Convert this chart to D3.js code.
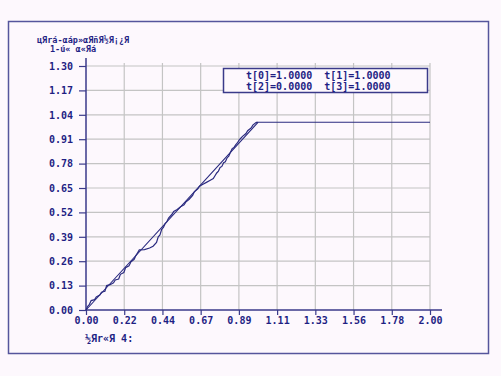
<!DOCTYPE html>
<html>
<head>
<meta charset="utf-8">
<script src="https://cdn.jsdelivr.net/npm/d3@7"></script>
<style>
  body { margin: 0; background: #fdf8fd; }
  text { font-family: "DejaVu Sans Mono", monospace; font-weight: bold; fill: #1f1f84; }
</style>
</head>
<body>
<div id="chart"></div>
<script>
// tick values / labels
const xTicks = d3.range(10).map(i => i * 2 / 9);
const yTicks = d3.range(11).map(i => i * 0.13);

// theoretical distribution function
const theoX = [0, 1, 2];
const theoY = [0, 1, 1];

const empX = [0.00, 0.01, 0.02, 0.03, 0.05, 0.06, 0.08, 0.09, 0.11, 0.12, 0.14, 0.16, 0.17, 0.19,
  0.20, 0.22, 0.23, 0.25, 0.26, 0.28, 0.29, 0.30, 0.31, 0.34, 0.37, 0.39, 0.41, 0.42, 0.43,
  0.44, 0.45, 0.46, 0.47, 0.48, 0.50, 0.51, 0.53, 0.55, 0.57, 0.58, 0.60, 0.62, 0.63, 0.65,
  0.66, 0.68, 0.70, 0.72, 0.74, 0.75, 0.76, 0.77, 0.78, 0.79, 0.80, 0.81, 0.82, 0.83, 0.84,
  0.85, 0.86, 0.87, 0.88, 0.89, 0.90, 0.91, 0.93, 0.94, 0.96, 0.97, 0.99, 1.00];
const empY = [0.00, 0.02, 0.03, 0.05, 0.055, 0.07, 0.08, 0.095, 0.10, 0.13, 0.135, 0.145, 0.16, 0.165,
  0.19, 0.20, 0.225, 0.235, 0.255, 0.27, 0.29, 0.305, 0.32, 0.322, 0.33, 0.34, 0.36, 0.39, 0.40,
  0.43, 0.44, 0.46, 0.47, 0.49, 0.51, 0.525, 0.535, 0.55, 0.56, 0.575, 0.59, 0.61, 0.63, 0.645,
  0.66, 0.67, 0.68, 0.69, 0.70, 0.715, 0.73, 0.74, 0.76, 0.765, 0.785, 0.79, 0.81, 0.82, 0.84,
  0.86, 0.865, 0.88, 0.89, 0.905, 0.915, 0.925, 0.94, 0.955, 0.97, 0.985, 1.00, 1.00];

const legendLines = ["t[0]=1.0000  t[1]=1.0000", "t[2]=0.0000  t[3]=1.0000"];
const titleLines = ["цЯrá-αáр»αЯñЯ½Я¡¿Я", "1-ú« α«Яá"];
const xLabel = "½Яr«Я 4:";

const W = 501, H = 376;
const svg = d3.select("#chart").append("svg")
    .attr("width", W).attr("height", H);

// outer frame
svg.append("rect")
    .attr("x", 8.5).attr("y", 21.5).attr("width", 480).attr("height", 332)
    .attr("fill", "none").attr("stroke", "#55559c").attr("stroke-width", 1.5);

const x = d3.scaleLinear().domain([0, 2]).range([86, 430]);
const y = d3.scaleLinear().domain([0, 1.3]).range([310, 66]);

// grid
svg.append("g").selectAll("line")
    .data(xTicks.slice(1))
    .join("line")
    .attr("x1", d => x(d)).attr("x2", d => x(d))
    .attr("y1", y(1.3) - 3).attr("y2", y(0))
    .attr("stroke", "#c4c4c4").attr("stroke-width", 1.2);

svg.append("g").selectAll("line")
    .data(yTicks.slice(1))
    .join("line")
    .attr("x1", x(0)).attr("x2", x(2))
    .attr("y1", d => y(d)).attr("y2", d => y(d))
    .attr("stroke", "#c4c4c4").attr("stroke-width", 1.2);

// axes
const axisColor = "#3a3a8a";
const xAxis = svg.append("g")
    .attr("transform", `translate(0,${y(0)})`)
    .call(d3.axisBottom(x).tickValues(xTicks).tickFormat(d3.format(".2f")).tickSize(5).tickPadding(4));
const yAxis = svg.append("g")
    .attr("transform", `translate(${x(0)},0)`)
    .call(d3.axisLeft(y).tickValues(yTicks).tickFormat(d3.format(".2f")).tickSize(7).tickPadding(6));

[xAxis, yAxis].forEach(g => {
    g.select(".domain").remove();
    g.selectAll(".tick line").attr("stroke", axisColor).attr("stroke-width", 1.2);
    g.selectAll(".tick text")
        .style("font-family", "'DejaVu Sans Mono', monospace")
        .style("font-weight", "bold")
        .style("font-size", "10px")
        .attr("fill", "#1f1f84");
});
xAxis.selectAll(".tick text").attr("dy", "0.45em");

svg.append("line")
    .attr("x1", x(0)).attr("x2", x(2) + 12)
    .attr("y1", y(0)).attr("y2", y(0))
    .attr("stroke", axisColor).attr("stroke-width", 1.5);
svg.append("line")
    .attr("x1", x(0)).attr("x2", x(0))
    .attr("y1", y(1.3) - 8).attr("y2", y(0))
    .attr("stroke", axisColor).attr("stroke-width", 1.5);

// curves
const line = d3.line().x(d => x(d[0])).y(d => y(d[1]));
svg.append("path")
    .datum(theoX.map((v, i) => [v, theoY[i]]))
    .attr("d", line)
    .attr("fill", "none").attr("stroke", "#2b2b80").attr("stroke-width", 1.1);
svg.append("path")
    .datum(empX.map((v, i) => [v, empY[i]]))
    .attr("d", line)
    .attr("fill", "none").attr("stroke", "#2b2b80").attr("stroke-width", 1.2);

// legend box
svg.append("rect")
    .attr("x", 223.5).attr("y", 68.5).attr("width", 204).attr("height", 24)
    .attr("fill", "#fdf8fd").attr("stroke", "#3a3a8a").attr("stroke-width", 1.5);
svg.append("g").selectAll("text")
    .data(legendLines)
    .join("text")
    .attr("x", 246).attr("y", (d, i) => 79 + i * 11)
    .style("font-size", "10px")
    .attr("xml:space", "preserve")
    .style("white-space", "pre")
    .text(d => d);

// titles
svg.append("text").attr("x", 37).attr("y", 43).style("font-size", "8.5px").text(titleLines[0]);
svg.append("text").attr("x", 50).attr("y", 52).style("font-size", "8.5px").text(titleLines[1]);
svg.append("text").attr("x", 85).attr("y", 342).style("font-size", "10px").text(xLabel);
</script>
</body>
</html>
